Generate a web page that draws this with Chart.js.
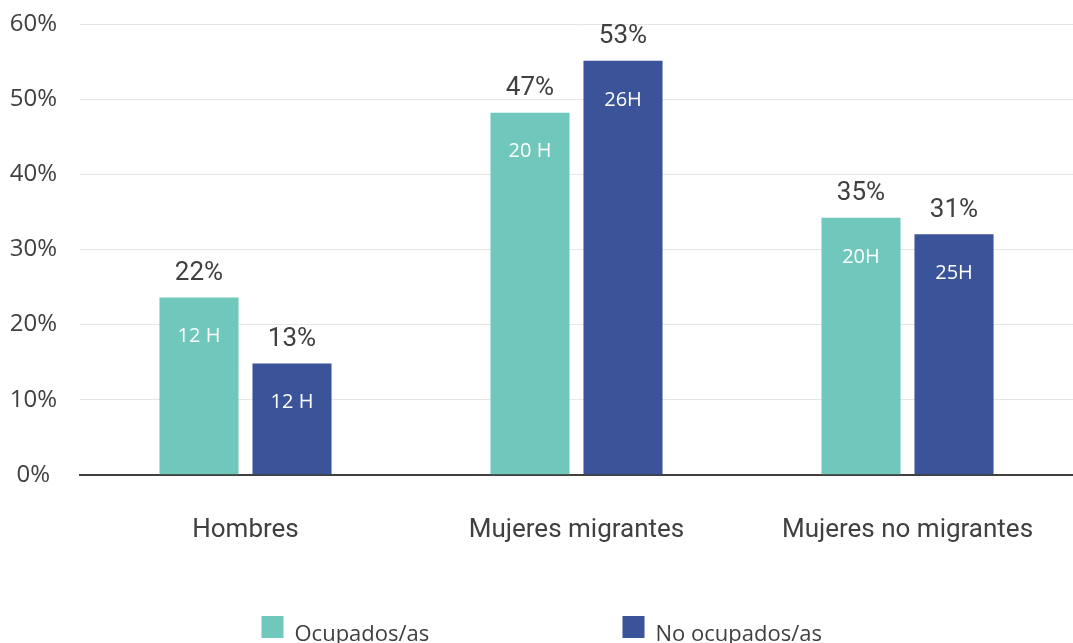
<!DOCTYPE html>
<html>
<head>
<meta charset="utf-8">
<script src="https://cdn.jsdelivr.net/npm/chart.js@4.4.1/dist/chart.umd.min.js"></script>
<style>
html,body{margin:0;padding:0;background:#fff;}
#wrap{width:1073px;height:643px;position:relative;overflow:hidden;}
</style>
</head>
<body>
<div id="wrap"><canvas id="c" width="1073" height="643"></canvas></div>
<script>
// ---- data ----
const categories = ['Hombres', 'Mujeres migrantes', 'Mujeres no migrantes'];
const seriesNames = ['Ocupados/as', 'No ocupados/as'];
const ocupados = [23.6, 48.2, 34.2];
const noOcupados = [14.8, 55.1, 32.0];
const ocupadosPctLabels = ['22%', '47%', '35%'];
const noOcupadosPctLabels = ['13%', '53%', '31%'];
const ocupadosHourLabels = ['12 H', '20 H', '20H'];
const noOcupadosHourLabels = ['12 H', '26H', '25H'];
const yMin = 0, yMax = 60, yStep = 10;

const colors = ['#6fc8bb', '#3b5398'];
const textColor = '#404040';

const barLabels = {
  id: 'barLabels',
  afterDatasetsDraw(chart) {
    const ctx = chart.ctx;
    chart.data.datasets.forEach((ds, di) => {
      const meta = chart.getDatasetMeta(di);
      meta.data.forEach((bar, i) => {
        ctx.save();
        ctx.textAlign = 'center';
        ctx.textBaseline = 'middle';
        ctx.fillStyle = textColor;
        ctx.font = '26px Roboto';
        ctx.fillText(ds.topLabels[i], bar.x, bar.y - 24);
        ctx.fillStyle = '#ffffff';
        ctx.font = '20px "Open Sans"';
        ctx.fillText(ds.innerLabels[i], bar.x, bar.y + 39);
        ctx.restore();
      });
    });
  }
};

const bottomLegend = {
  id: 'bottomLegend',
  afterDraw(chart) {
    const ctx = chart.ctx;
    const cx = chart.width / 2;
    const starts = [cx - 275, cx + 86];
    const boxTop = 616, box = 22;
    chart.data.datasets.forEach((ds, i) => {
      ctx.save();
      ctx.fillStyle = ds.backgroundColor;
      ctx.fillRect(starts[i], boxTop, box, box);
      ctx.fillStyle = textColor;
      ctx.font = '22px "Open Sans"';
      ctx.textAlign = 'left';
      ctx.textBaseline = 'alphabetic';
      ctx.fillText(ds.label, starts[i] + box + 11, 641);
      ctx.restore();
    });
  }
};

new Chart(document.getElementById('c'), {
  type: 'bar',
  data: {
    labels: categories,
    datasets: [
      { label: seriesNames[0], data: ocupados, backgroundColor: colors[0],
        topLabels: ocupadosPctLabels, innerLabels: ocupadosHourLabels },
      { label: seriesNames[1], data: noOcupados, backgroundColor: colors[1],
        topLabels: noOcupadosPctLabels, innerLabels: noOcupadosHourLabels }
    ]
  },
  options: {
    responsive: false,
    devicePixelRatio: 1,
    animation: false,
    categoryPercentage: 0.562,
    barPercentage: 0.85,
    layout: { padding: { top: 24, left: 0, right: 0, bottom: 65 } },
    plugins: {
      legend: { display: false },
      tooltip: { enabled: false }
    },
    scales: {
      x: {
        grid: { display: false },
        border: { display: true, color: textColor, width: 2 },
        ticks: { color: textColor, font: { family: 'Roboto', size: 26 }, padding: 32 }
      },
      y: {
        min: yMin, max: yMax,
        grid: { color: '#e6e6e6', lineWidth: 1, drawTicks: false },
        border: { display: false },
        ticks: {
          stepSize: yStep,
          color: textColor,
          crossAlign: 'center',
          padding: 23,
          font: { family: '"Open Sans"', size: 24 },
          callback: v => v + '%'
        },
        afterFit(scale) { scale.width = 80; scale.paddingTop = 0; scale.paddingBottom = 0; }
      }
    }
  },
  plugins: [barLabels, bottomLegend]
});
</script>
</body>
</html>
